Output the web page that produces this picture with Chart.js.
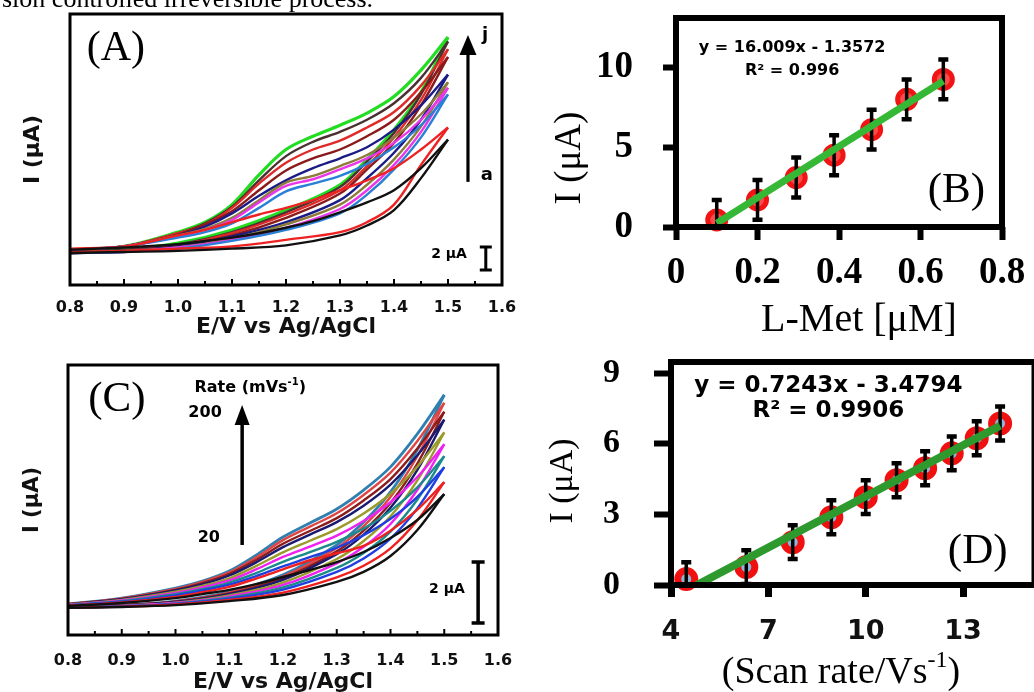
<!DOCTYPE html>
<html><head><meta charset="utf-8">
<script src="https://cdn.jsdelivr.net/npm/chart.js@4.4.1/dist/chart.umd.min.js"></script>
<style>
html,body{margin:0;padding:0;background:#fff;width:1034px;height:692px;overflow:hidden;position:relative}
.pn{position:absolute}
#topText{position:absolute;left:2px;top:-14px;font:26px/26px "Liberation Serif",serif;color:#000;white-space:nowrap;z-index:5}
</style></head><body>
<canvas id="cA" class="pn" style="left:0;top:0" width="520" height="340"></canvas>
<canvas id="cB" class="pn" style="left:520px;top:0" width="514" height="340"></canvas>
<canvas id="cC" class="pn" style="left:0;top:340px" width="520" height="360"></canvas>
<canvas id="cD" class="pn" style="left:520px;top:340px" width="530" height="352"></canvas>
<div id="topText">sion controlled irreversible process.</div>
<script>
// ---------- DATA ----------
const potFwd = [0.8,0.9,1.0,1.05,1.1,1.15,1.2,1.25,1.3,1.35,1.4,1.45,1.5];
const potRev = [0.8,0.9,1.0,1.1,1.2,1.3,1.35,1.4,1.45,1.5];
const tickE = [0.8,0.9,1.0,1.1,1.2,1.3,1.4,1.5,1.6];

// Panel A: CVs a..j (µA), forward and reverse scans
const cvALabels = ['a','b','c','d','e','f','g','h','i','j'];
const cvAFwd = [
 [3.2,3.4,3.7,4.0,4.3,4.7,5.2,5.8,6.6,7.5,8.6,10.6,13.2],
 [3.3,3.5,4.5,5.0,5.7,6.4,7.0,7.7,8.6,9.5,10.6,12.3,14.3],
 [3.2,3.5,4.3,4.8,5.6,7.0,8.5,9.2,9.9,11.0,12.5,14.5,17.3],
 [3.2,3.5,4.4,5.0,5.9,7.5,9.0,9.6,10.5,11.5,12.9,15.0,17.9],
 [3.2,3.5,4.5,5.1,6.1,7.7,9.3,9.9,10.8,11.8,13.4,15.5,18.4],
 [3.2,3.5,4.5,5.3,6.5,8.1,9.5,10.6,11.5,12.5,14.1,16.3,19.1],
 [3.2,3.5,4.6,5.5,6.7,8.6,10.4,11.5,12.3,13.5,15.0,17.5,20.7],
 [3.2,3.5,4.7,5.5,7.0,9.2,11.1,12.3,13.1,14.3,15.7,18.1,21.4],
 [3.2,3.5,4.7,5.6,7.1,9.5,11.7,13.0,13.9,15.0,16.5,18.8,22.1],
 [3.2,3.5,4.8,5.7,7.3,10.0,12.3,13.5,14.5,15.6,17.1,19.5,22.5]
];
const cvARev = [
 [2.9,3.0,3.1,3.3,3.6,4.5,5.4,6.8,9.7,13.2],
 [3.0,3.1,3.3,3.5,4.1,4.8,5.7,7.3,10.9,14.3],
 [2.9,3.0,3.3,4.0,5.0,6.5,8.2,10.5,13.4,17.3],
 [2.9,3.0,3.4,4.1,5.2,6.9,8.6,10.9,13.9,17.9],
 [2.9,3.1,3.4,4.2,5.5,7.3,9.1,11.4,14.4,18.4],
 [2.9,3.1,3.5,4.4,5.7,7.7,9.7,12.0,15.0,19.1],
 [2.9,3.1,3.5,4.5,6.1,8.3,10.5,12.9,16.3,20.7],
 [2.9,3.1,3.6,4.7,6.4,8.6,10.8,13.4,16.8,21.4],
 [2.9,3.2,3.7,4.8,6.6,8.9,11.2,13.8,17.3,22.1],
 [2.9,3.2,3.8,5.0,6.8,9.1,11.4,14.1,17.5,22.5]
];
const cvAColors = ['#111111','#ee2222','#2a7fd6','#ea35ea','#8c7b3a','#1b1b85','#8b1a1a','#e02a2a','#4a3030','#22dd22'];

// Panel C: CVs at 20..200 mV/s (µA)
const cvCLabels = ['20','40','60','80','100','120','140','160','180','200'];
const cvCFwd = [
 [0.95,1.05,1.21,1.34,1.48,1.67,1.90,2.13,2.39,2.72,3.18,3.77,4.62],
 [0.96,1.07,1.25,1.40,1.58,1.85,2.15,2.45,2.68,2.92,3.42,4.11,5.01],
 [0.97,1.09,1.30,1.46,1.65,1.93,2.25,2.55,2.86,3.27,3.81,4.53,5.50],
 [0.98,1.11,1.34,1.50,1.72,2.03,2.40,2.72,3.05,3.49,4.07,4.84,5.86],
 [0.99,1.13,1.38,1.56,1.79,2.15,2.56,2.90,3.26,3.74,4.35,5.18,6.25],
 [0.99,1.15,1.42,1.61,1.86,2.26,2.71,3.09,3.47,3.98,4.63,5.52,6.64],
 [1.00,1.17,1.46,1.66,1.95,2.38,2.88,3.29,3.70,4.24,4.93,5.89,7.06],
 [1.01,1.18,1.48,1.70,2.00,2.46,2.99,3.41,3.83,4.41,5.11,6.11,7.32],
 [1.01,1.20,1.51,1.74,2.05,2.54,3.11,3.55,3.99,4.59,5.32,6.36,7.61],
 [1.02,1.21,1.54,1.77,2.10,2.62,3.21,3.67,4.13,4.75,5.51,6.59,7.87]
];
const cvCRev = [
 [0.89,0.92,0.98,1.11,1.31,1.74,2.07,2.59,3.44,4.62],
 [0.89,0.93,1.00,1.15,1.39,1.89,2.27,2.84,3.76,5.01],
 [0.90,0.94,1.02,1.19,1.49,2.07,2.51,3.16,4.15,5.50],
 [0.90,0.94,1.03,1.22,1.56,2.20,2.69,3.39,4.44,5.86],
 [0.91,0.95,1.05,1.26,1.64,2.35,2.89,3.64,4.76,6.25],
 [0.91,0.96,1.06,1.30,1.72,2.49,3.08,3.89,5.07,6.64],
 [0.91,0.97,1.08,1.34,1.81,2.65,3.29,4.17,5.41,7.06],
 [0.91,0.97,1.09,1.36,1.86,2.74,3.42,4.33,5.62,7.32],
 [0.92,0.98,1.10,1.39,1.92,2.85,3.57,4.52,5.86,7.61],
 [0.92,0.98,1.11,1.41,1.97,2.95,3.70,4.69,6.07,7.87]
];
const cvCColors = ['#111111','#ee2020','#1f3fe0','#1a8a8a','#ee22ee','#9a9a2a','#1a1a70','#8b1c1c','#e04545','#2f80b0'];

// Panel B: calibration
const concB = [0.10,0.20,0.295,0.388,0.48,0.566,0.656];
const currB = [0.44,1.70,3.10,4.50,6.10,8.00,9.25];
const errB  = [1.25,1.25,1.25,1.25,1.25,1.25,1.25];
const fitBx = [0.10,0.656];
const fitBy = [0.24,9.15];
const tickConcB = [0,0.2,0.4,0.6,0.8];
const tickCurrB = [0,5,10];

// Panel D: scan-rate dependence
const rateD = [4.47,6.32,7.75,8.94,10.00,10.95,11.83,12.65,13.42,14.14];
const currD = [0.25,0.76,1.82,2.88,3.73,4.45,4.96,5.59,6.23,6.86];
const errD  = [0.72,0.72,0.72,0.72,0.72,0.72,0.72,0.72,0.72,0.72];
const fitDx = [4.8,14.14];
const fitDy = [0.0,6.76];
const tickRateD = [4,7,10,13];
const tickCurrD = [0,3,6,9];

// ---------- HELPERS ----------
const SANS = '"DejaVu Sans", sans-serif';
const SERIF = '"Liberation Serif", "Times New Roman", serif';
function txt(ctx, s, x, y, font, align, base) {
  ctx.save(); ctx.font = font; ctx.fillStyle = '#000';
  ctx.textAlign = align || 'center'; ctx.textBaseline = base || 'middle';
  ctx.fillText(s, x, y); ctx.restore();
}
function rich(ctx, parts, cx, cy, size, family, weight) {
  ctx.save(); ctx.fillStyle = '#000'; ctx.textBaseline = 'middle'; ctx.textAlign = 'left';
  let w = 0;
  parts.forEach(p => { ctx.font = `${weight} ${p.sup ? Math.round(size*0.62) : size}px ${family}`; p.w = ctx.measureText(p.t).width; w += p.w; });
  let x = cx - w/2;
  parts.forEach(p => { ctx.font = `${weight} ${p.sup ? Math.round(size*0.62) : size}px ${family}`; ctx.fillText(p.t, x, p.sup ? cy - size*0.32 : cy); x += p.w; });
  ctx.restore();
}
function vtxt(ctx, s, x, y, font) {
  ctx.save(); ctx.translate(x, y); ctx.rotate(-Math.PI/2); ctx.font = font; ctx.fillStyle = '#000';
  ctx.textAlign = 'center'; ctx.textBaseline = 'middle'; ctx.fillText(s, 0, 0); ctx.restore();
}
function arrowUp(ctx, x, yb, yt, headLen, headHalf, lw) {
  ctx.save(); ctx.strokeStyle = '#000'; ctx.fillStyle = '#000'; ctx.lineWidth = lw;
  ctx.beginPath(); ctx.moveTo(x, yb); ctx.lineTo(x, yt + headLen*0.8); ctx.stroke();
  ctx.beginPath(); ctx.moveTo(x, yt); ctx.lineTo(x - headHalf, yt + headLen); ctx.lineTo(x + headHalf, yt + headLen); ctx.closePath(); ctx.fill();
  ctx.restore();
}
function ibar(ctx, x, y0, y1, half, lw) {
  ctx.save(); ctx.strokeStyle = '#000'; ctx.lineWidth = lw; ctx.lineCap = 'butt';
  ctx.beginPath(); ctx.moveTo(x, y0); ctx.lineTo(x, y1);
  ctx.moveTo(x-half, y0); ctx.lineTo(x+half, y0); ctx.moveTo(x-half, y1); ctx.lineTo(x+half, y1); ctx.stroke(); ctx.restore();
}
function framePlugin(lw) {
  return { id: 'frame', afterDatasetsDraw(chart) {
    const {ctx, chartArea: a} = chart; ctx.save(); ctx.lineWidth = lw; ctx.strokeStyle = '#000'; ctx.lineJoin = 'miter';
    ctx.strokeRect(a.left, a.top, a.right - a.left, a.bottom - a.top); ctx.restore(); } };
}
const innerTicks = { id: 'innerTicks', afterDatasetsDraw(chart) {
  const {ctx, chartArea: a, scales: {x}} = chart; ctx.save(); ctx.strokeStyle = '#000'; ctx.lineWidth = 2;
  for (let k = 1; k < 16; k++) { const px = x.getPixelForValue(0.8 + k*0.05); const len = k % 2 === 0 ? 6 : 4;
    ctx.beginPath(); ctx.moveTo(px, a.bottom); ctx.lineTo(px, a.bottom - len); ctx.stroke(); }
  ctx.restore(); } };
function errPlugin(dsIndex, errs, capHalf) {
  return { id: 'errbars', afterDatasetDraw(chart, args) {
    if (args.index !== dsIndex) return;
    const {ctx, chartArea: a, scales: {x, y}} = chart;
    const data = chart.data.datasets[dsIndex].data;
    ctx.save(); ctx.beginPath(); ctx.rect(a.left, a.top, a.right - a.left, a.bottom - a.top); ctx.clip();
    ctx.strokeStyle = '#000';
    data.forEach((p, i) => {
      const px = x.getPixelForValue(p.x), y1 = y.getPixelForValue(p.y + errs[i]), y2 = y.getPixelForValue(p.y - errs[i]);
      ctx.lineWidth = 3.5; ctx.beginPath(); ctx.moveTo(px, y1); ctx.lineTo(px, y2); ctx.stroke();
      ctx.lineWidth = 4.5; ctx.beginPath(); ctx.moveTo(px - capHalf, y1); ctx.lineTo(px + capHalf, y1);
      ctx.moveTo(px - capHalf, y2); ctx.lineTo(px + capHalf, y2); ctx.stroke();
    });
    ctx.restore(); } };
}
function cvDatasets(fwd, rev, colors, labels, widthTop) {
  const ds = [];
  fwd.forEach((row, i) => {
    const w = (i === fwd.length - 1) ? widthTop : 2.4;
    const base = { borderColor: colors[i], borderWidth: w, pointRadius: 0, fill: false, tension: 0.35, label: labels[i] };
    ds.push(Object.assign({ data: potFwd.map((e, k) => ({x: e, y: row[k]})) }, base));
    ds.push(Object.assign({ data: potRev.map((e, k) => ({x: e, y: rev[i][k]})) }, base));
  });
  return ds;
}
const common = { animation: false, responsive: false, events: [],
  plugins: { legend: { display: false }, tooltip: { enabled: false } } };
const setTicks = arr => s => { s.ticks = arr.map(v => ({value: v})); };

// ---------- PANEL A ----------
new Chart(document.getElementById('cA'), {
  type: 'line',
  data: { datasets: cvDatasets(cvAFwd, cvARev, cvAColors, cvALabels, 3.2) },
  options: Object.assign({}, common, {
    layout: { padding: { top: 14, right: 18, left: 0, bottom: 0 } },
    scales: {
      x: { type: 'linear', min: 0.8, max: 1.6, afterBuildTicks: setTicks(tickE),
        ticks: { callback: v => v.toFixed(1), font: { family: SANS, weight: 'bold', size: 16 }, color: '#111', padding: 5, maxRotation: 0, autoSkip: false },
        grid: { display: false }, border: { display: false },
        title: { display: true, text: 'E/V vs Ag/AgCl', font: { family: SANS, weight: 'bold', size: 22 }, color: '#111', padding: { top: 0, bottom: 0 } },
        afterFit: s => { s.height = 55; s.paddingLeft = 0; s.paddingRight = 0; } },
      y: { type: 'linear', min: 0, max: 24.6, ticks: { display: false }, grid: { display: false }, border: { display: false },
        title: { display: true, text: 'I (μA)', font: { family: SANS, weight: 'bold', size: 22 }, color: '#111', padding: { top: 20, bottom: 0 } },
        afterFit: s => { s.width = 70; s.paddingTop = 0; s.paddingBottom = 0; } }
    }
  }),
  plugins: [framePlugin(3), innerTicks, { id: 'annA', afterDraw(chart) {
    const {ctx, scales: {x, y}} = chart;
    txt(ctx, '(A)', x.getPixelForValue(0.885), y.getPixelForValue(21.4), `42px ${SERIF}`);
    arrowUp(ctx, x.getPixelForValue(1.537), y.getPixelForValue(9.36), y.getPixelForValue(22.7), 20, 8.5, 3.2);
    txt(ctx, 'j', x.getPixelForValue(1.5685), y.getPixelForValue(22.7), `bold 18px ${SANS}`);
    txt(ctx, 'a', x.getPixelForValue(1.572), y.getPixelForValue(10.0), `bold 18px ${SANS}`);
    ibar(ctx, x.getPixelForValue(1.570), y.getPixelForValue(1.36), y.getPixelForValue(3.45), 6, 3);
    txt(ctx, '2 μA', x.getPixelForValue(1.535), y.getPixelForValue(2.8), `bold 14px ${SANS}`, 'right');
  } }]
});

// ---------- PANEL C ----------
new Chart(document.getElementById('cC'), {
  type: 'line',
  data: { datasets: cvDatasets(cvCFwd, cvCRev, cvCColors, cvCLabels, 2.8) },
  options: Object.assign({}, common, {
    layout: { padding: { top: 25, right: 22, left: 0, bottom: 0 } },
    scales: {
      x: { type: 'linear', min: 0.8, max: 1.6, afterBuildTicks: setTicks(tickE),
        ticks: { callback: v => v.toFixed(1), font: { family: SANS, weight: 'bold', size: 16 }, color: '#111', padding: 8, maxRotation: 0, autoSkip: false },
        grid: { display: false }, border: { display: false },
        title: { display: true, text: 'E/V vs Ag/AgCl', font: { family: SANS, weight: 'bold', size: 22 }, color: '#111', padding: { top: 0, bottom: 5 } },
        afterFit: s => { s.height = 65; s.paddingLeft = 0; s.paddingRight = 0; } },
      y: { type: 'linear', min: 0, max: 8.85, ticks: { display: false }, grid: { display: false }, border: { display: false },
        title: { display: true, text: 'I (μA)', font: { family: SANS, weight: 'bold', size: 21 }, color: '#111', padding: { top: 20, bottom: 0 } },
        afterFit: s => { s.width = 68; s.paddingTop = 0; s.paddingBottom = 0; } }
    }
  }),
  plugins: [framePlugin(3), innerTicks, { id: 'annC', afterDraw(chart) {
    const {ctx, scales: {x, y}} = chart;
    txt(ctx, '(C)', x.getPixelForValue(0.891), y.getPixelForValue(7.70), `43px ${SERIF}`);
    rich(ctx, [{t: 'Rate (mVs'}, {t: '-1', sup: true}, {t: ')'}], x.getPixelForValue(1.139), y.getPixelForValue(8.10), 16, SANS, 'bold');
    txt(ctx, '200', x.getPixelForValue(1.055), y.getPixelForValue(7.28), `bold 16px ${SANS}`);
    txt(ctx, '20', x.getPixelForValue(1.062), y.getPixelForValue(3.18), `bold 16px ${SANS}`);
    arrowUp(ctx, x.getPixelForValue(1.124), y.getPixelForValue(2.95), y.getPixelForValue(7.54), 20, 7.5, 3.5);
    ibar(ctx, x.getPixelForValue(1.563), y.getPixelForValue(0.39), y.getPixelForValue(2.39), 6.5, 3.5);
    txt(ctx, '2 μA', x.getPixelForValue(1.505), y.getPixelForValue(1.51), `bold 14px ${SANS}`);
  } }]
});

// ---------- PANEL B ----------
new Chart(document.getElementById('cB'), {
  type: 'scatter',
  data: { datasets: [
    { type: 'line', label: 'fit', data: fitBx.map((v, i) => ({x: v, y: fitBy[i]})), borderColor: '#35b835', borderWidth: 7, pointRadius: 0, order: 0, clip: false, borderCapStyle: 'butt' },
    { type: 'scatter', label: 'L-Met', data: concB.map((v, i) => ({x: v, y: currB[i]})), pointRadius: 9, pointBorderWidth: 5, pointBackgroundColor: '#ff4a4a', pointBorderColor: '#f01414', order: 1, clip: false }
  ] },
  options: Object.assign({}, common, {
    layout: { padding: { top: 18, right: 32, left: 0, bottom: 0 } },
    scales: {
      x: { type: 'linear', min: 0, max: 0.8, afterBuildTicks: setTicks(tickConcB),
        ticks: { callback: v => v === 0 ? '0' : v.toFixed(1), font: { family: SERIF, weight: 'bold', size: 37 }, color: '#000', padding: 11, maxRotation: 0, autoSkip: false },
        grid: { display: true, drawOnChartArea: false, drawTicks: true, tickLength: 13, tickWidth: 6, tickColor: '#000' }, border: { display: false },
        afterFit: s => { s.height = 113; s.paddingLeft = 0; s.paddingRight = 0; } },
      y: { type: 'linear', min: 0, max: 13.1, afterBuildTicks: setTicks(tickCurrB),
        ticks: { font: { family: SERIF, weight: 'bold', size: 37 }, color: '#000', padding: 30 },
        grid: { display: true, drawOnChartArea: false, drawTicks: true, tickLength: 13, tickWidth: 6, tickColor: '#000' }, border: { display: false },
        afterFit: s => { s.width = 156; s.paddingTop = 0; s.paddingBottom = 0; } }
    }
  }),
  plugins: [errPlugin(1, errB, 5), framePlugin(6), { id: 'annB', afterDraw(chart) {
    const {ctx, scales: {x, y}} = chart;
    txt(ctx, 'y = 16.009x - 1.3572', x.getPixelForValue(0.285), y.getPixelForValue(11.2), `bold 16px ${SANS}`);
    txt(ctx, 'R² = 0.996', x.getPixelForValue(0.285), y.getPixelForValue(9.8), `bold 16px ${SANS}`);
    txt(ctx, '(B)', x.getPixelForValue(0.688), y.getPixelForValue(2.26), `43px ${SERIF}`);
    vtxt(ctx, 'I (μA)', 50, 158, `37px ${SERIF}`);
    txt(ctx, 'L-Met [μM]', 339, 320, `40px ${SERIF}`);
  } }]
});

// ---------- PANEL D ----------
new Chart(document.getElementById('cD'), {
  type: 'scatter',
  data: { datasets: [
    { type: 'line', label: 'fit', data: fitDx.map((v, i) => ({x: v, y: fitDy[i]})), borderColor: '#2e9a2e', borderWidth: 8, pointRadius: 0, order: 0, clip: false, borderCapStyle: 'butt' },
    { type: 'scatter', label: 'rate', data: rateD.map((v, i) => ({x: v, y: currD[i]})), pointRadius: 8.5, pointBorderWidth: 7, pointBackgroundColor: '#8fb5d9', pointBorderColor: '#f01010', order: 1, clip: false }
  ] },
  options: Object.assign({}, common, {
    layout: { padding: { top: 22, right: 9, left: 0, bottom: 0 } },
    scales: {
      x: { type: 'linear', min: 4, max: 15.2, afterBuildTicks: setTicks(tickRateD),
        ticks: { font: { family: SANS, weight: 'bold', size: 27 }, color: '#111', padding: 19, maxRotation: 0, autoSkip: false },
        grid: { display: true, drawOnChartArea: false, drawTicks: true, tickLength: 12, tickWidth: 7, tickColor: '#000' }, border: { display: false },
        afterFit: s => { s.height = 107; s.paddingLeft = 0; s.paddingRight = 0; } },
      y: { type: 'linear', min: 0, max: 9.47, afterBuildTicks: setTicks(tickCurrD),
        ticks: { font: { family: SERIF, weight: 'bold', size: 34 }, color: '#000', padding: 34 },
        grid: { display: true, drawOnChartArea: false, drawTicks: true, tickLength: 17, tickWidth: 6, tickColor: '#000' }, border: { display: false },
        afterFit: s => { s.width = 151; s.paddingTop = 0; s.paddingBottom = 0; } }
    }
  }),
  plugins: [errPlugin(1, errD, 5), framePlugin(6), { id: 'annD', afterDraw(chart) {
    const {ctx, scales: {x, y}} = chart;
    txt(ctx, 'y = 0.7243x - 3.4794', x.getPixelForValue(8.85), y.getPixelForValue(8.45), `bold 23px ${SANS}`);
    txt(ctx, 'R² = 0.9906', x.getPixelForValue(8.85), y.getPixelForValue(7.39), `bold 23px ${SANS}`);
    txt(ctx, '(D)', x.getPixelForValue(13.45), y.getPixelForValue(1.40), `43px ${SERIF}`);
    vtxt(ctx, 'I (μA)', 43, 141, `34px ${SERIF}`);
    rich(ctx, [{t: '(Scan rate/Vs'}, {t: '-1', sup: true}, {t: ')'}], 321, 333, 38, SERIF, 'normal');
  } }]
});
</script>
</body></html>
